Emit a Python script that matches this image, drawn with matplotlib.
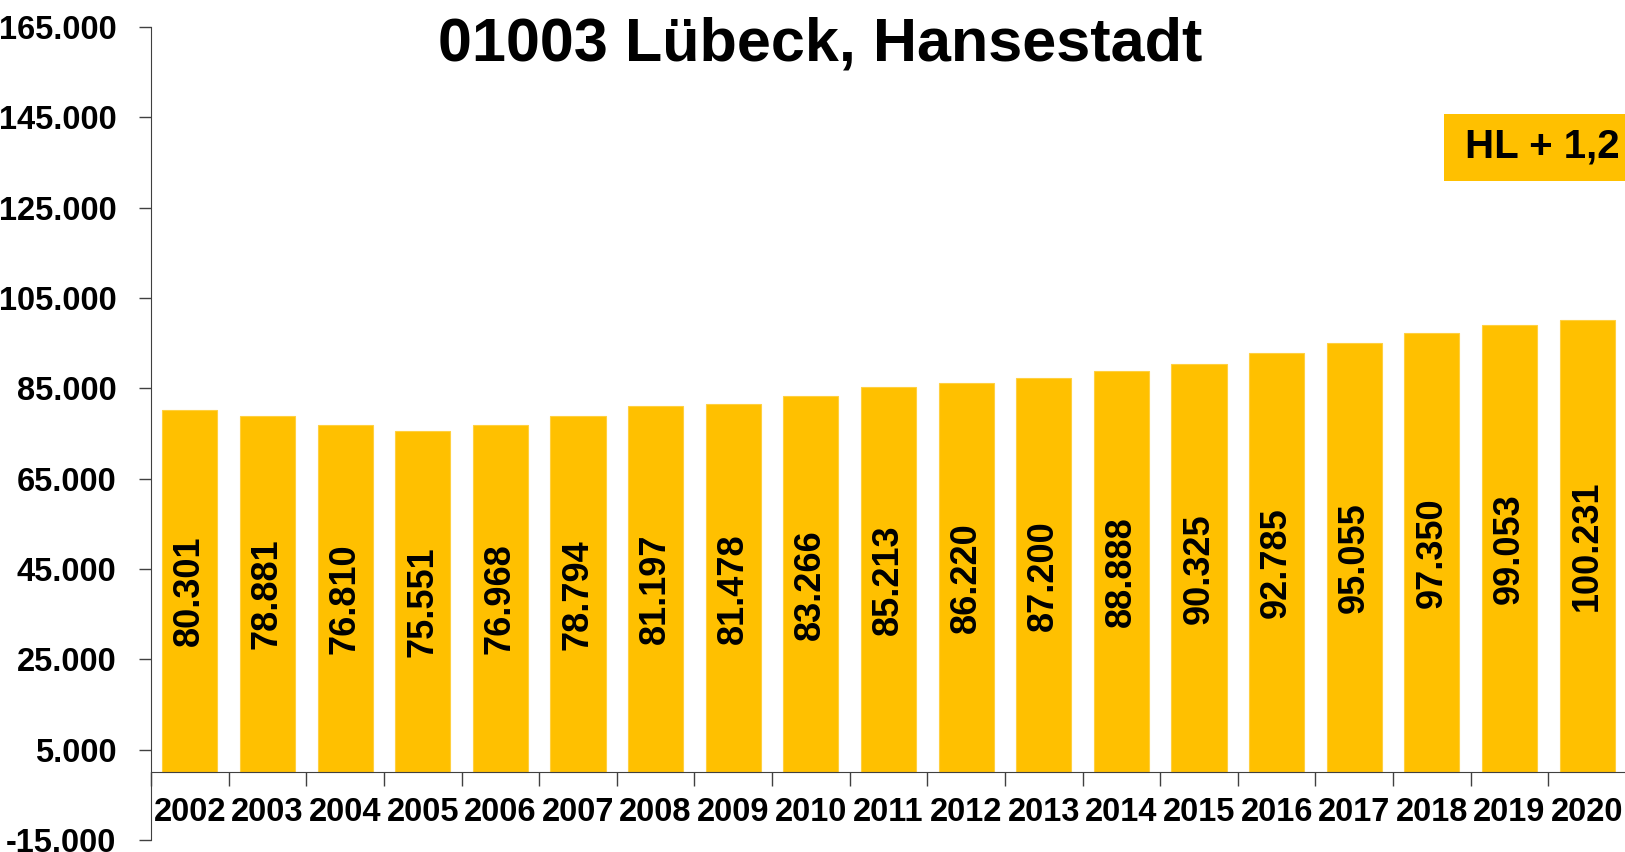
import matplotlib
matplotlib.use("Agg")
import matplotlib.pyplot as plt
from matplotlib.patches import Rectangle
from matplotlib.ticker import FuncFormatter

years = ["2002", "2003", "2004", "2005", "2006", "2007", "2008", "2009", "2010",
         "2011", "2012", "2013", "2014", "2015", "2016", "2017", "2018", "2019", "2020"]
values = [80301, 78881, 76810, 75551, 76968, 78794, 81197, 81478, 83266,
          85213, 86220, 87200, 88888, 90325, 92785, 95055, 97350, 99053, 100231]
yticks = [-15000, 5000, 25000, 45000, 65000, 85000, 105000, 125000, 145000, 165000]
title = "01003 Lübeck, Hansestadt"
note = "HL + 1,2 %"

BAR = "#FFC000"
FONT = ["Liberation Sans", "DejaVu Sans"]
plt.rcParams["font.family"] = FONT
plt.rcParams["font.weight"] = "bold"

def fmt(v):
    return f"{int(v):,}".replace(",", ".")

fig = plt.figure(figsize=(16.25, 8.52), dpi=100)
ax = fig.add_axes([151/1625, 12/852, 1475/1625, 813/852])

x = list(range(len(years)))
bars = ax.bar(x, values, width=0.71, color=BAR, edgecolor="#FFD040", linewidth=0.8, zorder=2)
for xi, v in zip(x, values):
    ax.text(xi, v/2, fmt(v), rotation=90, ha="center", va="center",
            fontsize=26, fontweight="bold", color="black", zorder=3)

ax.set_xlim(-0.5, len(years) - 0.5)
ax.set_ylim(yticks[0], yticks[-1])
ax.set_yticks(yticks)
ax.yaxis.set_major_formatter(FuncFormatter(lambda v, p: fmt(v)))
ax.tick_params(axis="y", length=9, width=1, color="#404040", pad=16, labelsize=23.5)

ax.set_xticks(x)
ax.set_xticklabels(years)
ax.set_xticks([i - 0.5 for i in range(len(years) + 1)], minor=True)
ax.tick_params(axis="x", which="major", length=0, pad=18, labelsize=23.5)
ax.tick_params(axis="x", which="minor", length=10, width=1, color="#404040")
for lab in ax.get_xticklabels() + ax.get_yticklabels():
    lab.set_fontweight("bold")

ax.spines["top"].set_visible(False)
ax.spines["right"].set_visible(False)
ax.spines["bottom"].set_position(("data", 0))
ax.spines["bottom"].set_color("#404040")
ax.spines["left"].set_color("#404040")
ax.spines["bottom"].set_zorder(4)

fig.text(820/1625, 1 - 45/852, title, ha="center", va="center",
         fontsize=44, fontweight="bold")

fig.patches.append(Rectangle((1444/1625, 1 - 181/852), 0.2, 67/852,
                             transform=fig.transFigure, facecolor=BAR,
                             edgecolor="none", zorder=5))
fig.text(1465/1625, 1 - 147/852, note, ha="left", va="center",
         fontsize=29, fontweight="bold", zorder=6)

fig.savefig("out.png", dpi=100)
